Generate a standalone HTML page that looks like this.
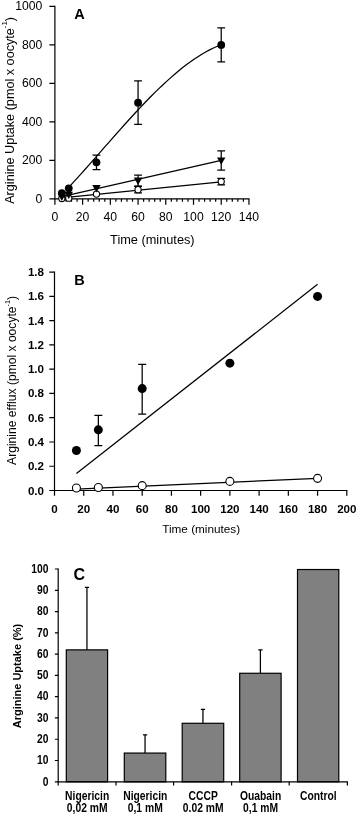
<!DOCTYPE html>
<html><head><meta charset="utf-8"><title>Figure</title>
<style>
html,body{margin:0;padding:0;background:#fff;}
svg{display:block;font-family:"Liberation Sans",sans-serif;}
.ax{stroke:#000;stroke-width:1.2;fill:none;stroke-linecap:butt}
.ln{stroke:#000;stroke-width:1.25;fill:none}
.eb{stroke:#000;stroke-width:1.25;fill:none}
.fa{font-size:12.2px;fill:#000}
.fb{font-size:11.6px;font-weight:bold;fill:#000}
.fc{font-size:12px;font-weight:bold;fill:#000}
</style></head><body>
<svg width="358" height="817" viewBox="0 0 358 817">
<rect width="358" height="817" fill="#fff"/>

<g id="panelA">
<path class="ax" d="M54.9 5.800000000000006V198.9H249.54"/>
<text class="fa" x="42.3" y="202.70" text-anchor="end">0</text>
<text class="fa" x="42.3" y="164.20" text-anchor="end">200</text>
<text class="fa" x="42.3" y="125.70" text-anchor="end">400</text>
<text class="fa" x="42.3" y="87.20" text-anchor="end">600</text>
<text class="fa" x="42.3" y="48.70" text-anchor="end">800</text>
<text class="fa" x="42.3" y="10.20" text-anchor="end">1000</text>
<path class="ax" d="M49.4 198.90H54.9M49.4 160.40H54.9M49.4 121.90H54.9M49.4 83.40H54.9M49.4 44.90H54.9M49.4 6.40H54.9M54.90 198.9v5.9M60.44 198.9v2.9M65.99 198.9v2.9M71.53 198.9v2.9M77.08 198.9v2.9M82.62 198.9v5.9M88.16 198.9v2.9M93.71 198.9v2.9M99.25 198.9v2.9M104.80 198.9v2.9M110.34 198.9v5.9M115.88 198.9v2.9M121.43 198.9v2.9M126.97 198.9v2.9M132.52 198.9v2.9M138.06 198.9v5.9M143.60 198.9v2.9M149.15 198.9v2.9M154.69 198.9v2.9M160.24 198.9v2.9M165.78 198.9v5.9M171.32 198.9v2.9M176.87 198.9v2.9M182.41 198.9v2.9M187.96 198.9v2.9M193.50 198.9v5.9M199.04 198.9v2.9M204.59 198.9v2.9M210.13 198.9v2.9M215.68 198.9v2.9M221.22 198.9v5.9M226.76 198.9v2.9M232.31 198.9v2.9M237.85 198.9v2.9M243.40 198.9v2.9M248.94 198.9v5.9"/>
<text class="fa" x="54.90" y="221.3" text-anchor="middle">0</text>
<text class="fa" x="82.62" y="221.3" text-anchor="middle">20</text>
<text class="fa" x="110.34" y="221.3" text-anchor="middle">40</text>
<text class="fa" x="138.06" y="221.3" text-anchor="middle">60</text>
<text class="fa" x="165.78" y="221.3" text-anchor="middle">80</text>
<text class="fa" x="193.50" y="221.3" text-anchor="middle">100</text>
<text class="fa" x="221.22" y="221.3" text-anchor="middle">120</text>
<text class="fa" x="248.94" y="221.3" text-anchor="middle">140</text>
<text class="fa" x="152.35" y="243.9" text-anchor="middle" style="font-size:12.75px">Time (minutes)</text>
<text class="fa" transform="translate(13.8,110.4) rotate(-90)" text-anchor="middle" style="font-size:12.65px">Arginine Uptake (pmol x oocyte<tspan dy="-6.5" style="font-size:7.8px">-1</tspan><tspan dy="6.5">)</tspan></text>
<text x="74.2" y="18.7" font-size="14.5" font-weight="bold">A</text>
<path class="ln" d="M65.99 190.29L69.87 186.12L73.75 181.90L77.63 177.63L81.51 173.32L85.39 168.97L89.27 164.60L93.15 160.20L97.03 155.79L100.92 151.38L104.80 146.96L108.68 142.54L112.56 138.13L116.44 133.74L120.32 129.38L124.20 125.04L128.08 120.74L131.96 116.48L135.84 112.27L139.72 108.11L143.60 104.02L147.48 99.99L151.37 96.04L155.25 92.16L159.13 88.38L163.01 84.68L166.89 81.09L170.77 77.60L174.65 74.23L178.53 70.97L182.41 67.83L186.29 64.83L190.17 61.97L194.05 59.25L197.94 56.67L201.82 54.26L205.70 52.01L209.58 49.93L213.46 48.02L217.34 46.30L221.22 44.76"/>
<path class="ln" d="M61.83 196.59L221.22 160.40"/>
<path class="ln" d="M61.83 197.94L221.22 181.96"/>
<path class="eb" d="M138.06 186.46V192.86M134.16 186.46h7.8M134.16 192.86h7.8M221.22 178.38V184.77M217.32 178.38h7.8M217.32 184.77h7.8"/>
<circle cx="61.83" cy="198.52" r="3.1" fill="#fff" stroke="#000" stroke-width="1.1"/>
<circle cx="68.76" cy="198.13" r="3.1" fill="#fff" stroke="#000" stroke-width="1.1"/>
<circle cx="96.48" cy="194.09" r="3.1" fill="#fff" stroke="#000" stroke-width="1.1"/>
<circle cx="138.06" cy="189.66" r="3.1" fill="#fff" stroke="#000" stroke-width="1.1"/>
<circle cx="221.22" cy="181.58" r="3.1" fill="#fff" stroke="#000" stroke-width="1.1"/>
<path class="eb" d="M138.06 175.22V186.00M134.16 175.22h7.8M134.16 186.00h7.8M221.22 150.78V170.03M217.32 150.78h7.8M217.32 170.03h7.8"/>
<path d="M57.63 193.59h8.4L61.83 200.99z" fill="#000"/>
<path d="M64.56 191.66h8.4L68.76 199.06z" fill="#000"/>
<path d="M92.28 185.12h8.4L96.48 192.52z" fill="#000"/>
<path d="M133.86 177.61h8.4L138.06 185.01z" fill="#000"/>
<path d="M217.02 157.40h8.4L221.22 164.80z" fill="#000"/>
<path class="eb" d="M96.48 155.01V169.64M92.58 155.01h7.8M92.58 169.64h7.8M138.06 80.90V124.40M134.16 80.90h7.8M134.16 124.40h7.8M221.22 27.96V61.84M217.32 27.96h7.8M217.32 61.84h7.8"/>
<circle cx="61.83" cy="193.12" r="3.9" fill="#000"/>
<circle cx="68.76" cy="188.31" r="3.9" fill="#000"/>
<circle cx="96.48" cy="162.32" r="3.9" fill="#000"/>
<circle cx="138.06" cy="102.65" r="3.9" fill="#000"/>
<circle cx="221.22" cy="44.90" r="3.9" fill="#000"/>
</g>
<g id="panelB">
<path class="ax" d="M54.5 271.55999999999995V490.5H347.40000000000003"/>
<text class="fb" x="44.0" y="494.50" text-anchor="end">0.0</text>
<text class="fb" x="44.0" y="470.24" text-anchor="end">0.2</text>
<text class="fb" x="44.0" y="445.98" text-anchor="end">0.4</text>
<text class="fb" x="44.0" y="421.72" text-anchor="end">0.6</text>
<text class="fb" x="44.0" y="397.46" text-anchor="end">0.8</text>
<text class="fb" x="44.0" y="373.20" text-anchor="end">1.0</text>
<text class="fb" x="44.0" y="348.94" text-anchor="end">1.2</text>
<text class="fb" x="44.0" y="324.68" text-anchor="end">1.4</text>
<text class="fb" x="44.0" y="300.42" text-anchor="end">1.6</text>
<text class="fb" x="44.0" y="276.16" text-anchor="end">1.8</text>
<text class="fb" x="54.50" y="512.5" text-anchor="middle">0</text>
<text class="fb" x="83.73" y="512.5" text-anchor="middle">20</text>
<text class="fb" x="112.96" y="512.5" text-anchor="middle">40</text>
<text class="fb" x="142.19" y="512.5" text-anchor="middle">60</text>
<text class="fb" x="171.42" y="512.5" text-anchor="middle">80</text>
<text class="fb" x="200.65" y="512.5" text-anchor="middle">100</text>
<text class="fb" x="229.88" y="512.5" text-anchor="middle">120</text>
<text class="fb" x="259.11" y="512.5" text-anchor="middle">140</text>
<text class="fb" x="288.34" y="512.5" text-anchor="middle">160</text>
<text class="fb" x="317.57" y="512.5" text-anchor="middle">180</text>
<text class="fb" x="346.80" y="512.5" text-anchor="middle">200</text>
<path class="ax" d="M49.3 490.50H54.5M49.3 466.24H54.5M49.3 441.98H54.5M49.3 417.72H54.5M49.3 393.46H54.5M49.3 369.20H54.5M49.3 344.94H54.5M49.3 320.68H54.5M49.3 296.42H54.5M49.3 272.16H54.5M54.50 490.5v5.2M83.73 490.5v5.2M112.96 490.5v5.2M142.19 490.5v5.2M171.42 490.5v5.2M200.65 490.5v5.2M229.88 490.5v5.2M259.11 490.5v5.2M288.34 490.5v5.2M317.57 490.5v5.2M346.80 490.5v5.2"/>
<text class="fa" x="201.2" y="533.3" text-anchor="middle" style="font-size:11.75px">Time (minutes)</text>
<text transform="translate(15.9,464.9) rotate(-90)" text-anchor="start" style="font-size:12.1px">Arginine efflux (pmol x oocyte<tspan dy="-6" style="font-size:7.4px">-1</tspan><tspan dy="6">)</tspan></text>
<text x="74.3" y="284.6" font-size="14.5" font-weight="bold">B</text>
<path class="ln" d="M76.42 473.52L317.57 284.29"/>
<path class="ln" d="M76.42 489.04L317.57 478.37"/>
<path class="eb" d="M98.34 415.29V445.62M94.34 415.29h8M94.34 445.62h8M142.19 364.35V414.08M138.19 364.35h8M138.19 414.08h8"/>
<circle cx="76.42" cy="450.47" r="4.5" fill="#000"/>
<circle cx="98.34" cy="429.85" r="4.5" fill="#000"/>
<circle cx="142.19" cy="388.61" r="4.5" fill="#000"/>
<circle cx="229.88" cy="363.13" r="4.5" fill="#000"/>
<circle cx="317.57" cy="296.42" r="4.5" fill="#000"/>
<circle cx="76.42" cy="488.07" r="4" fill="#fff" stroke="#000" stroke-width="1.1"/>
<circle cx="98.34" cy="487.47" r="4" fill="#fff" stroke="#000" stroke-width="1.1"/>
<circle cx="142.19" cy="485.65" r="4" fill="#fff" stroke="#000" stroke-width="1.1"/>
<circle cx="229.88" cy="481.40" r="4" fill="#fff" stroke="#000" stroke-width="1.1"/>
<circle cx="317.57" cy="478.37" r="4" fill="#fff" stroke="#000" stroke-width="1.1"/>
</g>
<g id="panelC">
<path class="eb" d="M86.95 649.86V587.30M84.85 587.30h4.2M145.05 753.07V734.98M142.95 734.98h4.2M202.95 723.28V709.45M200.85 709.45h4.2M260.40 673.27V649.86M258.30 649.86h4.2"/>
<rect x="66.3" y="649.86" width="41.30" height="131.94" fill="#808080" stroke="#000" stroke-width="1.2"/>
<rect x="124.3" y="753.07" width="41.50" height="28.73" fill="#808080" stroke="#000" stroke-width="1.2"/>
<rect x="182.2" y="723.28" width="41.50" height="58.52" fill="#808080" stroke="#000" stroke-width="1.2"/>
<rect x="239.7" y="673.27" width="41.40" height="108.53" fill="#808080" stroke="#000" stroke-width="1.2"/>
<rect x="297.5" y="569.53" width="41.30" height="212.27" fill="#808080" stroke="#000" stroke-width="1.2"/>
<path class="ax" d="M58.2 568.4V781.8H347.9"/>
<text class="fc" transform="translate(48.4,785.60) scale(0.86,1)" text-anchor="end">0</text>
<text class="fc" transform="translate(48.4,764.32) scale(0.86,1)" text-anchor="end">10</text>
<text class="fc" transform="translate(48.4,743.04) scale(0.86,1)" text-anchor="end">20</text>
<text class="fc" transform="translate(48.4,721.76) scale(0.86,1)" text-anchor="end">30</text>
<text class="fc" transform="translate(48.4,700.48) scale(0.86,1)" text-anchor="end">40</text>
<text class="fc" transform="translate(48.4,679.20) scale(0.86,1)" text-anchor="end">50</text>
<text class="fc" transform="translate(48.4,657.92) scale(0.86,1)" text-anchor="end">60</text>
<text class="fc" transform="translate(48.4,636.64) scale(0.86,1)" text-anchor="end">70</text>
<text class="fc" transform="translate(48.4,615.36) scale(0.86,1)" text-anchor="end">80</text>
<text class="fc" transform="translate(48.4,594.08) scale(0.86,1)" text-anchor="end">90</text>
<text class="fc" transform="translate(48.4,572.80) scale(0.86,1)" text-anchor="end">100</text>
<path class="ax" d="M54.900000000000006 781.80H58.2M54.900000000000006 760.52H58.2M54.900000000000006 739.24H58.2M54.900000000000006 717.96H58.2M54.900000000000006 696.68H58.2M54.900000000000006 675.40H58.2M54.900000000000006 654.12H58.2M54.900000000000006 632.84H58.2M54.900000000000006 611.56H58.2M54.900000000000006 590.28H58.2M54.900000000000006 569.00H58.2M58.2 781.8v3.6M116 781.8v3.6M173.6 781.8v3.6M231.6 781.8v3.6M289.2 781.8v3.6M347.4 781.8v3.6"/>
<text class="fc" transform="translate(87.15,799.7) scale(0.86,1)" text-anchor="middle">Nigericin</text>
<text class="fc" transform="translate(87.15,812.1) scale(0.86,1)" text-anchor="middle">0,02 mM</text>
<text class="fc" transform="translate(145.25,799.7) scale(0.86,1)" text-anchor="middle">Nigericin</text>
<text class="fc" transform="translate(145.25,812.1) scale(0.86,1)" text-anchor="middle">0,1 mM</text>
<text class="fc" transform="translate(203.15,799.7) scale(0.86,1)" text-anchor="middle">CCCP</text>
<text class="fc" transform="translate(203.15,812.1) scale(0.86,1)" text-anchor="middle">0.02 mM</text>
<text class="fc" transform="translate(260.60,799.7) scale(0.86,1)" text-anchor="middle">Ouabain</text>
<text class="fc" transform="translate(260.60,812.1) scale(0.86,1)" text-anchor="middle">0,1 mM</text>
<text class="fc" transform="translate(318.35,799.7) scale(0.86,1)" text-anchor="middle">Control</text>
<text transform="translate(20.9,676) rotate(-90)" text-anchor="middle" style="font-size:11px;font-weight:bold">Arginine Uptake (%)</text>
<text x="73.6" y="580.3" font-size="16" font-weight="bold">C</text>
</g>
</svg></body></html>
